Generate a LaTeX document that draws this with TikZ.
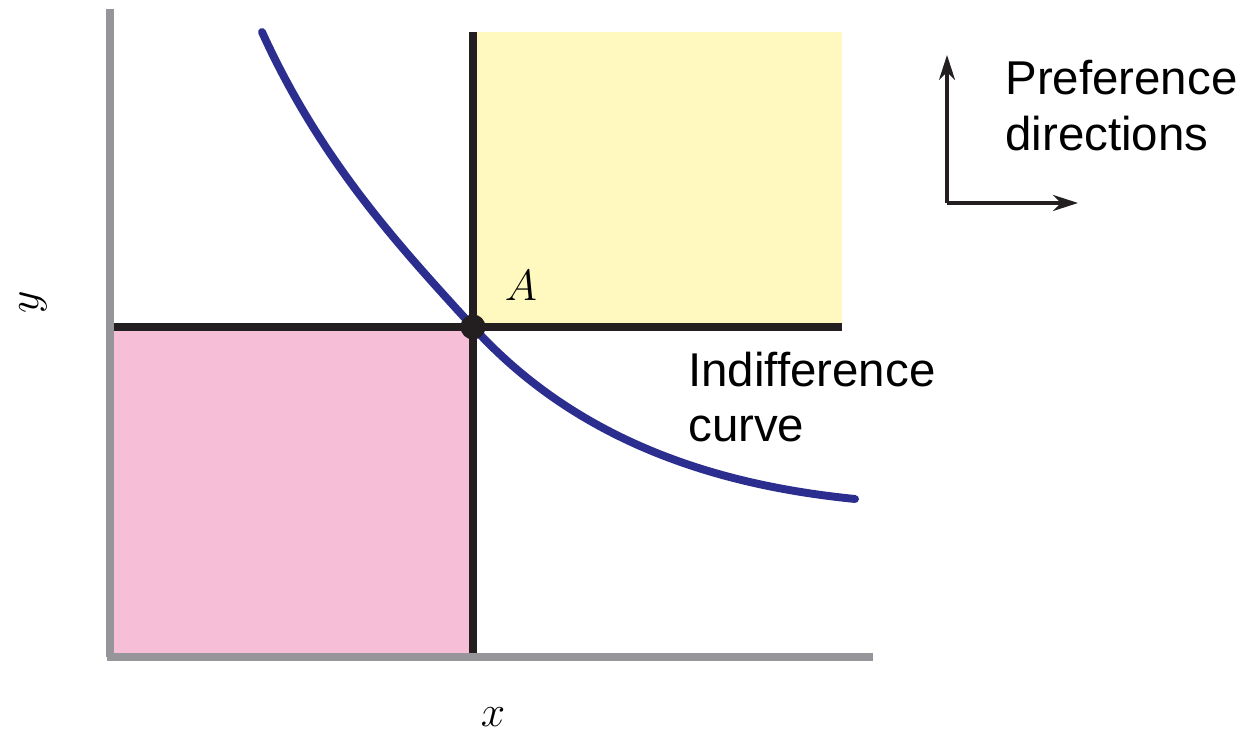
\documentclass[tikz,border=0pt]{standalone}
\usepackage{fontspec}
\setmainfont{Liberation Sans}
\usepackage{tikz}
\usetikzlibrary{arrows.meta}
\definecolor{axisgray}{RGB}{150,150,154}
\definecolor{lowpink}{RGB}{246,191,215}
\definecolor{highyellow}{RGB}{255,249,192}
\definecolor{curveblue}{RGB}{43,46,143}
\definecolor{lineblack}{RGB}{35,31,32}

\begin{document}
\begin{tikzpicture}[
  axisline/.style={draw=axisgray,line width=4pt},
  boundline/.style={draw=lineblack,line width=4pt},
  dirarrow/.style={draw=lineblack,line width=2pt,-{Stealth[length=5mm,width=3.2mm,inset=1.6mm]}},
  txt/.style={inner sep=0pt,align=left,anchor=west,font=\fontsize{27}{31.5}\selectfont},
  mathlbl/.style={inner sep=0pt,font=\fontsize{33}{37}\selectfont}]
\useasboundingbox (0,0) rectangle (24.98,14.7);
\coordinate(A) at (9.46,8.16);
\coordinate(o) at (2.2,1.56);
\coordinate(ytop) at (2.2,14.52);
\coordinate(xend) at (17.46,1.56);
\coordinate(hi) at (16.84,14.06);
\fill[lowpink] (o) rectangle (A);
\fill[highyellow] (A) rectangle (hi);
\draw[boundline] (2.26,8.16) -- (A) -- (16.84,8.16);
\draw[boundline] (9.46,1.56) -- (A) -- (9.46,14.06);
\draw[axisline] (ytop) -- (o);
\draw[axisline] (2.14,1.56) -- (xend);
\draw[curveblue,line width=4.5pt,line cap=round] (5.24,14.06) .. controls (6.44,11.42) and (8.06,9.70) .. (A)
  .. controls (11.66,5.74) and (14.6,4.97) .. (17.10,4.72);
\fill[lineblack] (A) circle (0.25);
\node[mathlbl](alab) at (10.42,8.98){$A$};
\node[mathlbl](xlab) at (9.86,0.36){$x$};
\node[mathlbl,rotate=90](ylab) at (0.66,8.66){$y$};
\node[txt](icurve) at (13.76,6.76){Indifference\\curve};
\coordinate(c) at (18.94,10.64);
\coordinate(up) at (18.94,13.6);
\coordinate(rt) at (21.56,10.64);
\draw[dirarrow] (c) -- (up);
\draw[dirarrow] (c) -- (rt);
\node[txt](pref) at (20.1,12.59){Preference\\directions};
\end{tikzpicture}
\end{document}
